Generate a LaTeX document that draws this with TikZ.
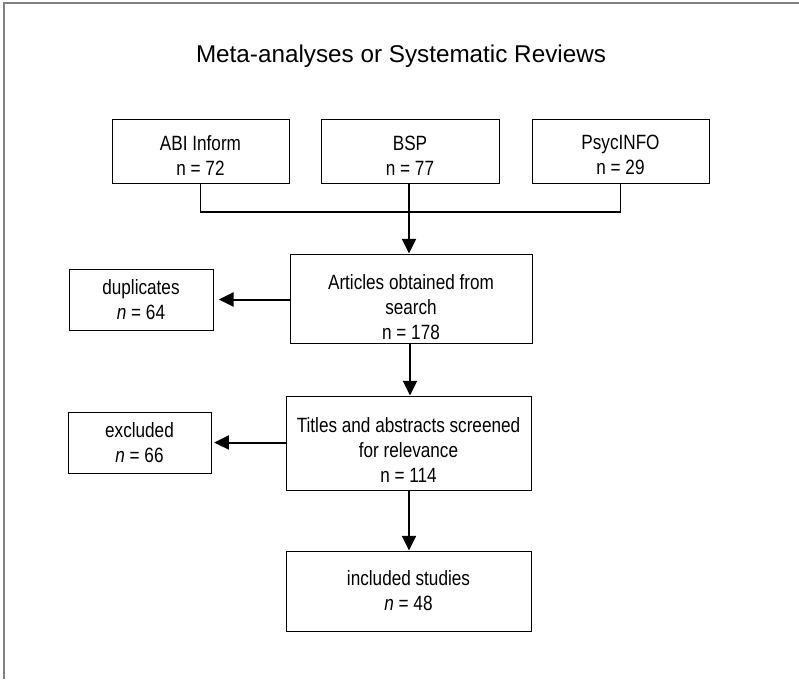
\documentclass[tikz,border=0pt]{standalone}
\usepackage{fontspec}
\setmainfont{Liberation Sans}
\newfontfamily\narrowfont[FakeStretch=0.83]{Liberation Sans}
\usetikzlibrary{arrows.meta}

\begin{document}
\begin{tikzpicture}[x=0.75pt,y=0.75pt,yscale=-1,xscale=1,
  box/.style={draw, line width=0.75pt, inner sep=0pt, align=center,
    font=\narrowfont\fontsize{15.5}{18.75}\selectfont},
  lower/.style={text height=#1},
  flow/.style={line width=1.5pt, -{Triangle[length=11pt,width=10.5pt]}}]
\useasboundingbox (0,0) rectangle (799,679);

%Shape: Frame
\draw [color={rgb, 255:red, 128; green, 128; blue, 128 }, line width=1.1pt] (4,679) -- (4,3) -- (799,3) ;

% Text Node
\node (title) at (401,56) [inner sep=0pt, font=\fontsize{18.2}{22}\selectfont] {Meta-analyses or Systematic Reviews};

%Shape: Rectangle
\node (abi) at (200.5,151) [box, lower=36pt, minimum width=132.75pt, minimum height=48pt] {ABI Inform\\n = 72};
%Shape: Rectangle
\node (bsp) at (410,151) [box, lower=36pt, minimum width=133.5pt, minimum height=48pt] {BSP\\n = 77};
%Shape: Rectangle
\node (psyc) at (620.5,151) [box, lower=36pt, minimum width=132.75pt, minimum height=48pt] {PsycINFO\\n = 29};
%Shape: Rectangle
\node (articles) at (411,298.5) [box, lower=62pt, minimum width=181.5pt, minimum height=66.75pt] {Articles obtained from\\search\\n = 178};
%Shape: Rectangle
\node (dup) at (141,299.5) [box, minimum width=108pt, minimum height=45.75pt] {duplicates\\\textit{n} = 64};
%Shape: Rectangle
\node (titles) at (408.5,443) [box, lower=59pt, minimum width=183.75pt, minimum height=70.5pt] {Titles and abstracts screened\\for relevance\\n = 114};
%Shape: Rectangle
\node (excl) at (139.5,442.5) [box, minimum width=107.25pt, minimum height=45.75pt] {excluded\\\textit{n} = 66};
%Shape: Rectangle
\node (incl) at (408.5,591) [box, minimum width=183.75pt, minimum height=60pt] {included studies\\\textit{n} = 48};

%Straight Lines
\coordinate (join) at (409,212);
\draw [line width=1.2pt] (abi.south) |- (join) -| (psyc.south) ;
\draw [line width=1.5pt] (join |- bsp.south) -- (join) ;
\draw [flow] (join) -- (join |- articles.north) ;
\draw [flow, shorten >=4pt] (articles.west |- dup.east) -- (dup.east) ;
\draw [flow] (articles.south -| 410,0) -- (titles.north -| 410,0) ;
\draw [flow, shorten >=2pt] (titles.west |- excl.east) -- (excl.east) ;
\draw [flow] (titles.south -| 409,0) -- (incl.north -| 409,0) ;

\end{tikzpicture}
\end{document}
